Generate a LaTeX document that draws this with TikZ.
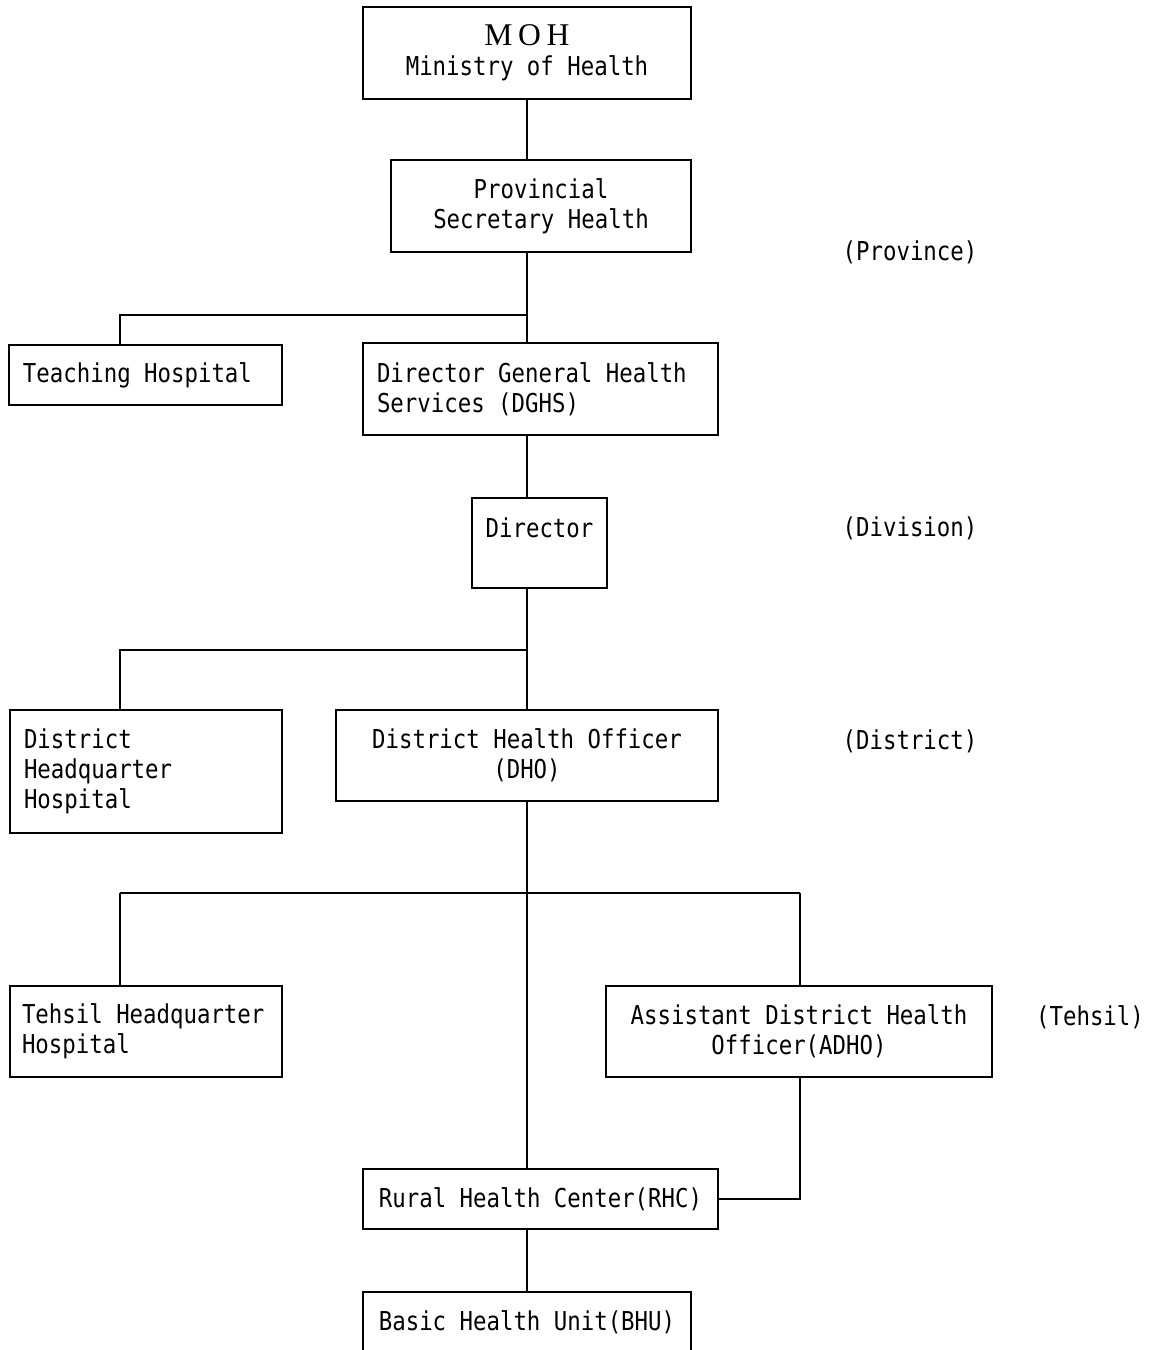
\documentclass[tikz,border=0pt]{standalone}
\usepackage{fontspec}
\newfontfamily\orgfont[FakeStretch=0.86]{DejaVu Sans Mono}
\newfontfamily\mohfont[LetterSpace=18]{Liberation Serif}

\begin{document}
\begin{tikzpicture}[
  box/.style={draw,line width=1.3pt,inner sep=0pt,align=center,
    font=\orgfont\fontsize{18.5}{21.3}\selectfont},
  lbox/.style={box,align=flush left,inner xsep=0.35cm},
  level/.style={font=\orgfont\fontsize{18.5}{21.3}\selectfont},
  link/.style={line width=1.3pt}]
  \useasboundingbox (0,0) rectangle (28.975,-33.75);
  % main line
  \node[box,minimum width=8.2cm,minimum height=2.3cm] (moh) at (13.175,-1.325)
    {{\mohfont\fontsize{22.5}{24}\selectfont MOH}\\Ministry of Health};
  \node[box,minimum width=7.5cm,minimum height=2.3cm] (prov) at (13.525,-5.15)
    {Provincial\\Secretary Health};
  \node[lbox,text width=8.175cm,minimum height=2.3cm] (dghs) at (13.5125,-9.725)
    {Director General Health\\Services (DGHS)};
  \node[box,minimum width=3.375cm,minimum height=2.25cm,text depth=0.79cm] (dir) at (13.4875,-13.575)
    {Director};
  \node[box,minimum width=9.55cm,minimum height=2.275cm] (dho) at (13.175,-18.8875)
    {District Health Officer\\(DHO)};
  \node[box,minimum width=9.65cm,minimum height=2.275cm] (adho) at (19.975,-25.7875)
    {Assistant District Health\\Officer(ADHO)};
  \node[box,minimum width=8.875cm,minimum height=1.5cm] (rhc) at (13.5125,-29.975)
    {Rural Health Center(RHC)};
  \node[box,minimum width=8.2cm,minimum height=1.5cm] (bhu) at (13.175,-33.05)
    {Basic Health Unit(BHU)};
  % hospitals
  \node[lbox,text width=6.125cm,minimum height=1.5cm] (teach) at (3.6375,-9.375)
    {Teaching Hospital};
  \node[lbox,text width=6.1cm,minimum height=3.075cm] (dhh) at (3.65,-19.2875)
    {District\\Headquarter\\Hospital};
  \node[lbox,inner xsep=0.3cm,text width=6.2cm,minimum height=2.275cm] (thq) at (3.65,-25.7875)
    {Tehsil Headquarter\\Hospital};
  % levels
  \node[level] (province) at (22.75,-6.3) {(Province)};
  \node[level] (division) at (22.75,-13.2) {(Division)};
  \node[level] (district) at (22.75,-18.525) {(District)};
  \node[level] (tehsil) at (27.25,-25.425) {(Tehsil)};
  % junctions
  \coordinate (split1) at (13.175,-7.875);
  \coordinate (teachtop) at (3,-7.875);
  \coordinate (split2) at (13.175,-16.25);
  \coordinate (dhhtop) at (3,-16.25);
  \coordinate (thqtop) at (3,-22.325);
  \coordinate (adhotop) at (20,-22.325);
  % links
  \draw[link] (moh.south) -- (moh.south |- prov.north);
  \draw[link] (moh.south |- prov.south) -- (moh.south |- dghs.north);
  \draw[link] (split1) -- (teachtop) -- (teachtop |- teach.north);
  \draw[link] (moh.south |- dghs.south) -- (moh.south |- dir.north);
  \draw[link] (moh.south |- dir.south) -- (dho.north);
  \draw[link] (split2) -- (dhhtop) -- (dhhtop |- dhh.north);
  \draw[link] (dho.south) -- (dho.south |- rhc.north);
  \draw[link] (thqtop) -- (adhotop);
  \draw[link] (thqtop) -- (thqtop |- thq.north);
  \draw[link] (adhotop) -- (adhotop |- adho.north);
  \draw[link] (adhotop |- adho.south) |- (rhc.east);
  \draw[link] (dho.south |- rhc.south) -- (dho.south |- bhu.north);
\end{tikzpicture}
\end{document}
